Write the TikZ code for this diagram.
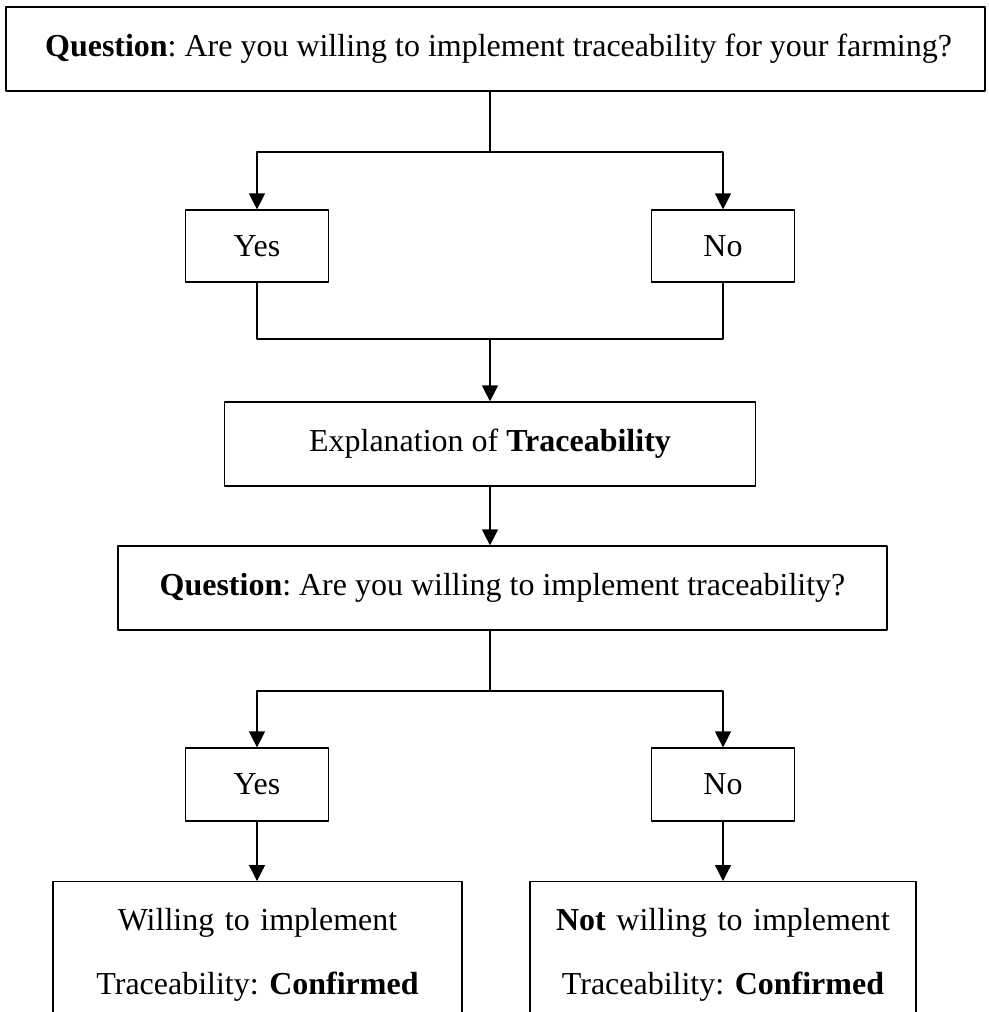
\documentclass[tikz,border=0pt]{standalone}
\usepackage{fontspec}
\setmainfont{Liberation Serif}
\usetikzlibrary{arrows.meta}
\frenchspacing

\begin{document}
\begin{tikzpicture}[line cap=round,line join=round,>={Triangle[length=3.2mm,width=3.2mm]},x=0.02cm,y=-0.02cm,
        box/.style={draw,line width=0.7pt,inner sep=0pt,font=\fontsize{18.2}{22}\selectfont},
        endbox/.style={draw,line width=0.7pt,anchor=north,align=center,inner xsep=0pt,inner ysep=0.54cm,font=\fontsize{18.2}{36.4}\selectfont},
        link/.style={line width=0.7pt}]
        \useasboundingbox (0,0) rectangle (989,1012);
        % boxes
        \node[box,minimum width=19.58cm,minimum height=1.68cm] (q1) at (495.5,49) {\hspace*{0.12cm}\textbf{Question}: Are you willing to implement traceability for your farming?};
        \node[box,minimum width=2.87cm,minimum height=1.44cm] (yes1) at (257,246) {Yes};
        \node[box,minimum width=2.87cm,minimum height=1.44cm] (no1) at (723,246) {No};
        \node[box,minimum width=10.63cm,minimum height=1.68cm] (expl) at (490,444) {Explanation of \textbf{Traceability}};
        \node[box,minimum width=15.38cm,minimum height=1.68cm] (q2) at (502.5,588) {\textbf{Question}: Are you willing to implement traceability?};
        \node[box,minimum width=2.87cm,minimum height=1.46cm] (yes2) at (257,784.5) {Yes};
        \node[box,minimum width=2.87cm,minimum height=1.46cm] (no2) at (723,784.5) {No};
        \node[endbox,text width=8.18cm] (will) at (257.5,881) {Willing to implement\\Traceability: \textbf{Confirmed}};
        \node[endbox,text width=7.72cm] (notwill) at (723,881) {\textbf{Not} willing to implement\\Traceability: \textbf{Confirmed}};
        % branch points
        \coordinate (split1) at (490,152);
        \coordinate (merge1) at (490,339);
        \coordinate (split2) at (490,691);
        % connectors
        \draw [link] (split1 |- q1.south) -- (split1);
        \draw [link,->] (split1) -| (yes1.north);
        \draw [link,->] (split1) -| (no1.north);
        \draw [link] (yes1.south) |- (merge1) -| (no1.south);
        \draw [link,->] (merge1) -- (expl.north);
        \draw [link,->] (expl.south) -- (expl.south |- q2.north);
        \draw [link] (split2 |- q2.south) -- (split2);
        \draw [link,->] (split2) -| (yes2.north);
        \draw [link,->] (split2) -| (no2.north);
        \draw [link,->] (yes2.south) -- (yes2.south |- will.north);
        \draw [link,->] (no2.south) -- (no2.south |- notwill.north);
\end{tikzpicture}
\end{document}
